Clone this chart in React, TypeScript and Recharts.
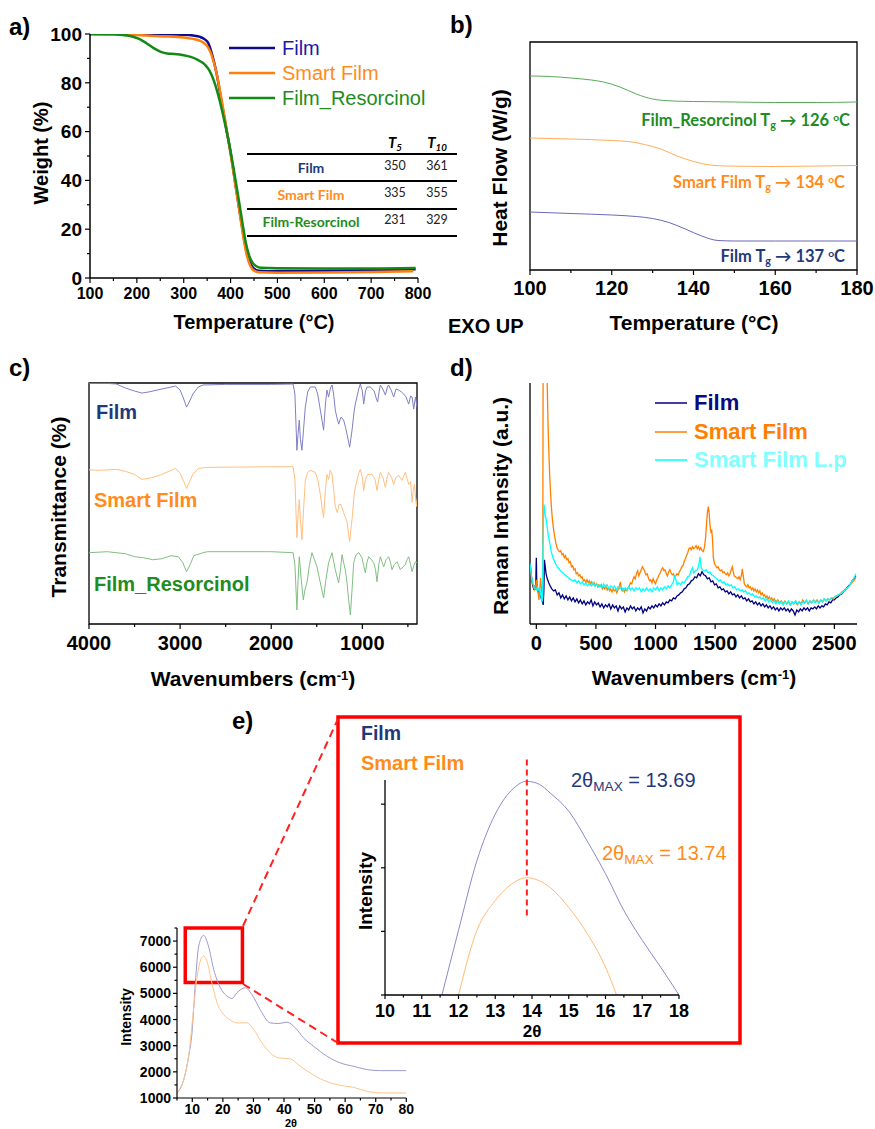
import React from 'react';
import { LineChart, Line, XAxis, YAxis, ReferenceArea, ReferenceLine } from 'recharts';

const AR = '"Liberation Sans", Arial, sans-serif';
const CA = 'Lato, "Open Sans", sans-serif';

const NAVY_T = '#1f3a7a';
const ORANGE_T = '#ff8c1a';
const GREEN_T = '#1e8c1e';

// ---------- a) TGA ----------
const tgaXTicks = [100, 150, 200, 250, 300, 350, 400, 450, 500, 550, 600, 650, 700, 750, 800];
const tgaXMajor = [100, 200, 300, 400, 500, 600, 700, 800];
const tgaYTicks = [0, 10, 20, 30, 40, 50, 60, 70, 80, 90, 100];
const tgaYMajor = [0, 20, 40, 60, 80, 100];
const tgaFilm = [[100, 100], [150, 100], [200, 100], [250, 99.9], [300, 99.7], [320, 99.4], [335, 98.8], [345, 97.8], [352, 96.5], [360, 92], [370, 84], [380, 73], [390, 62], [400, 51.5], [410, 39], [420, 26.5], [428, 17], [435, 10], [442, 6], [450, 3.8], [460, 3], [480, 2.8], [550, 2.9], [650, 3.1], [750, 3.4], [795, 3.6]];
const tgaSmart = [[100, 100], [150, 100], [200, 99.6], [250, 99.1], [300, 98.6], [320, 98], [335, 97.2], [345, 96], [352, 94.5], [360, 91], [370, 84], [380, 74], [390, 63], [400, 51], [410, 38.5], [420, 26], [428, 16], [435, 9], [442, 5], [450, 3], [460, 2.4], [500, 2.2], [600, 2.3], [700, 2.5], [790, 2.8]];
const tgaResorcinol = [[100, 100], [150, 99.9], [170, 99.6], [190, 99], [205, 98], [220, 96.3], [235, 94.3], [250, 92.8], [265, 92], [280, 91.8], [300, 91.3], [315, 90.6], [330, 89.4], [345, 87.5], [355, 85], [365, 80.5], [375, 74], [385, 66], [395, 57], [405, 46.5], [415, 35], [425, 23], [432, 15], [440, 9], [448, 6], [455, 4.8], [465, 4.2], [500, 4], [600, 3.9], [700, 3.9], [795, 4.1]];
const tgaTable = [
  { name: 'Film', t5: 350, t10: 361, color: NAVY_T },
  { name: 'Smart Film', t5: 335, t10: 355, color: ORANGE_T },
  { name: 'Film-Resorcinol', t5: 231, t10: 329, color: GREEN_T },
];

// ---------- b) DSC ----------
const dscXTicks = [100, 110, 120, 130, 140, 150, 160, 170, 180];
const dscXMajor = [100, 120, 140, 160, 180];
const dscResorcinol = [[100, 97], [105, 96.75], [110, 96], [115, 95], [118, 94], [122, 91.5], [126, 88], [130, 85.5], [135, 84.5], [140, 84.25], [150, 84], [160, 83.75], [170, 83.75], [180, 84]];
const dscSmart = [[100, 66], [110, 65.5], [120, 64.75], [125, 64], [128, 62.75], [132, 60.5], [136, 57], [140, 54.25], [144, 52.5], [148, 52], [160, 51.75], [170, 52], [180, 52.25]];
const dscFilm = [[100, 29], [110, 28.25], [120, 27.5], [126, 26.75], [130, 25.75], [134, 23.75], [138, 20.5], [142, 17], [146, 14.75], [150, 14.5], [160, 14.5], [180, 14.5]];

// ---------- c) FTIR ----------
const irXTicks = [4000, 3500, 3000, 2500, 2000, 1500, 1000, 500];
const irXMajor = [4000, 3000, 2000, 1000];
const irFilm = [[4000, 119.8], [3800, 119.8], [3700, 119.5], [3650, 118.5], [3600, 117.5], [3500, 116], [3420, 115], [3350, 115.5], [3200, 117], [3100, 118], [3050, 118.5], [3000, 116.5], [2960, 112], [2930, 108], [2900, 110.5], [2860, 114.5], [2800, 118], [2750, 119], [2500, 119.3], [2000, 119.3], [1760, 119.5], [1740, 114.5], [1718, 86.5], [1705, 95], [1692, 101.5], [1680, 92], [1663, 86.5], [1645, 97], [1626, 108], [1600, 115.5], [1571, 118], [1516, 118], [1490, 114.5], [1461, 106.5], [1425, 96.5], [1405, 109.5], [1388, 116.5], [1370, 113], [1350, 117.5], [1333, 119], [1315, 114.5], [1297, 106.5], [1280, 103], [1260, 99.5], [1234, 103], [1205, 101.5], [1185, 98], [1168, 94.5], [1139, 88], [1113, 96.5], [1090, 106], [1077, 109.5], [1040, 117], [1022, 119.5], [1000, 116], [985, 109.5], [965, 116], [948, 118], [912, 118], [870, 116], [845, 112], [832, 110.5], [815, 116], [802, 119], [775, 117], [747, 114], [725, 118], [711, 119], [680, 116], [656, 113], [630, 117], [601, 116.5], [570, 115.5], [546, 114.5], [520, 113], [491, 109.5], [470, 113.5], [454, 113], [436, 107], [417, 113], [400, 108]];
const irSmart = [[4000, 76.8], [3900, 76.5], [3700, 77], [3600, 76], [3500, 74.5], [3420, 72], [3300, 73], [3200, 74.5], [3100, 76.5], [3050, 77.5], [3000, 75], [2960, 71], [2930, 67.5], [2900, 70.5], [2860, 74.5], [2800, 77.5], [2700, 78], [2000, 78.3], [1760, 78.3], [1740, 72], [1725, 52], [1718, 43], [1705, 54.5], [1692, 62], [1680, 52], [1663, 42], [1645, 57], [1626, 71.5], [1600, 75.5], [1571, 76.5], [1516, 75.5], [1490, 72], [1461, 64.5], [1440, 57], [1425, 53], [1405, 67], [1388, 74.5], [1370, 72], [1352, 76.5], [1333, 74.5], [1315, 67], [1297, 58.5], [1275, 55.5], [1255, 59.5], [1234, 59.5], [1205, 55.5], [1185, 53], [1168, 51], [1150, 44.5], [1139, 41], [1120, 49.5], [1113, 52], [1090, 64.5], [1077, 68], [1040, 75], [1022, 77], [1000, 73], [985, 66.5], [965, 72], [940, 74.5], [894, 74.5], [860, 72], [839, 66.5], [820, 72], [802, 75.5], [775, 73], [747, 68], [725, 73.5], [711, 75.5], [680, 73], [656, 69.5], [630, 73], [601, 74], [565, 71.5], [528, 75.5], [491, 69.5], [470, 71], [454, 60.5], [440, 67], [428, 69.5], [406, 58.5], [400, 62]];
const irResorcinol = [[4000, 35.5], [3800, 36], [3600, 35], [3500, 33.5], [3400, 33], [3300, 32], [3200, 32.5], [3100, 34], [3020, 33.5], [2970, 30.5], [2930, 26], [2890, 29.5], [2850, 34], [2750, 35.5], [2700, 36], [2000, 36], [1760, 35.5], [1740, 29.5], [1718, 7], [1705, 22], [1692, 33.5], [1670, 22], [1648, 12], [1630, 17], [1608, 20.5], [1580, 29.5], [1553, 35.5], [1525, 32], [1498, 28.5], [1461, 20.5], [1425, 13], [1400, 22], [1370, 30.5], [1333, 35.5], [1297, 27], [1260, 20.5], [1240, 27], [1223, 34.5], [1200, 29.5], [1187, 27], [1168, 20.5], [1150, 12], [1131, 4.5], [1113, 17], [1095, 30.5], [1070, 34.5], [1040, 35.5], [1004, 33], [985, 29], [967, 25.5], [948, 31], [930, 33.5], [900, 32], [875, 30.5], [855, 27], [839, 21], [820, 29.5], [802, 33.5], [785, 31], [765, 28.5], [740, 32], [711, 33.5], [690, 30.5], [674, 27], [650, 29.5], [619, 31], [600, 29], [583, 27], [555, 28.5], [528, 29.5], [510, 32], [491, 33.5], [470, 29.5], [454, 26], [436, 29], [417, 31], [400, 30.5]];

// ---------- d) Raman ----------
const ramanXTicks = [0, 250, 500, 750, 1000, 1250, 1500, 1750, 2000, 2250, 2500];
const ramanXMajor = [0, 500, 1000, 1500, 2000, 2500];
const ramanFilm = [[-53, 30.5], [-45, 26], [-38, 22], [-30, 19], [-22, 17.5], [-14, 18.5], [-6, 17], [0, 33], [4, 20], [12, 17], [22, 15], [32, 14.5], [42, 12.5], [52, 11], [58, 9.5], [64, 18], [68, 32], [74, 29], [82, 25], [92, 22.5], [104, 20.5], [116, 19], [130, 17.5], [145, 16.5], [160, 17], [175, 14.5], [190, 15.5], [205, 13], [220, 14.5], [235, 12.5], [250, 14], [265, 12], [280, 13.5], [295, 11.5], [310, 13], [325, 11], [340, 12.5], [355, 10.5], [370, 12], [385, 10], [400, 11.5], [415, 9.5], [430, 11], [445, 10], [460, 12], [475, 9], [490, 11], [505, 9.5], [520, 10.5], [535, 8.5], [550, 10], [565, 8], [580, 9.5], [595, 8.5], [610, 10], [625, 7.5], [640, 9.5], [655, 8], [670, 9], [685, 6.5], [700, 9], [715, 7.5], [730, 8.5], [745, 6], [760, 8], [775, 7], [790, 9], [805, 7.5], [820, 8.5], [835, 6.5], [850, 8], [865, 7], [880, 8.5], [895, 5.5], [910, 7.5], [925, 6.5], [940, 8.5], [955, 7.5], [970, 9], [985, 8], [1000, 9.5], [1015, 8.5], [1030, 10], [1045, 9], [1060, 10.5], [1075, 9.5], [1090, 11], [1105, 10.5], [1120, 12], [1135, 11.5], [1150, 13], [1165, 12.5], [1180, 14], [1195, 14.5], [1210, 15.5], [1225, 16], [1240, 17.5], [1255, 18], [1270, 19.5], [1285, 20], [1300, 21.5], [1315, 22], [1330, 23.5], [1345, 23], [1360, 25], [1375, 24], [1390, 26], [1405, 24.5], [1420, 24], [1435, 22.5], [1450, 23], [1465, 21], [1480, 21.5], [1495, 19.5], [1510, 20], [1525, 18], [1540, 18.5], [1555, 17], [1570, 17.5], [1585, 16], [1600, 16.5], [1615, 15], [1630, 16], [1645, 14.5], [1660, 15], [1675, 13.5], [1690, 14.5], [1705, 13], [1720, 14], [1735, 12.5], [1750, 13], [1765, 11.5], [1780, 12.5], [1795, 11], [1810, 11.5], [1825, 10], [1840, 11], [1855, 9.5], [1870, 10.5], [1885, 9], [1900, 10], [1915, 8.5], [1930, 9.5], [1945, 8], [1960, 9], [1975, 7.5], [1990, 8.5], [2005, 7], [2020, 8], [2035, 6.5], [2050, 8], [2065, 7], [2080, 8], [2095, 6.5], [2110, 7.5], [2125, 6], [2140, 7.5], [2155, 6.5], [2170, 4.5], [2185, 7], [2200, 6], [2215, 7.5], [2230, 6.5], [2245, 8], [2260, 7], [2275, 8], [2290, 6.5], [2305, 8], [2320, 7.5], [2335, 8.5], [2350, 7.5], [2365, 9], [2380, 8], [2395, 9], [2410, 8.5], [2425, 10], [2440, 9.5], [2455, 11], [2470, 10.5], [2485, 12], [2500, 12], [2515, 13], [2530, 13.5], [2545, 14.5], [2560, 15], [2575, 16], [2590, 17], [2605, 18], [2620, 19], [2635, 20], [2650, 21.5], [2665, 22.5], [2680, 24]];
const ramanSmart = [[-53, 30.5], [-45, 26], [-38, 22], [-30, 20], [-22, 18], [-14, 17], [-6, 19], [0, 22], [6, 18], [14, 16], [22, 12], [30, 18], [36, 23], [44, 17], [50, 14.5], [54, 13], [57, 130], [70, 160], [85, 140], [92, 118], [98, 100], [105, 86], [112, 74], [119, 66], [126, 58.5], [135, 52], [145, 47], [154, 43.5], [165, 40], [175, 38], [185, 36.5], [195, 36], [205, 36.5], [215, 34.5], [225, 35], [235, 33], [245, 34], [255, 32], [265, 32.5], [275, 30.5], [285, 31], [295, 28.5], [305, 29], [315, 27], [325, 27.5], [335, 25], [345, 25.5], [355, 24], [365, 24.5], [375, 23], [385, 23.5], [395, 21.5], [405, 22], [415, 20.5], [425, 22], [435, 20.5], [445, 21.5], [455, 20], [465, 21], [475, 19.5], [485, 20.5], [495, 19], [505, 20], [515, 18.5], [525, 19.5], [535, 18.5], [545, 19.5], [555, 17.5], [565, 18.5], [575, 17.5], [585, 19], [595, 17], [605, 18], [615, 16.5], [625, 17.5], [635, 16], [645, 17.5], [655, 16.5], [665, 17], [675, 15.5], [685, 17], [695, 18.5], [705, 21], [712, 18], [720, 16.5], [730, 17.5], [740, 16], [750, 17.5], [760, 16.5], [770, 18], [780, 19], [790, 20.5], [800, 20], [810, 22], [820, 23.5], [830, 22.5], [840, 25], [850, 26.5], [860, 24], [870, 25.5], [880, 27], [890, 28.5], [900, 27.5], [910, 26], [920, 24.5], [930, 25], [940, 23], [950, 21.5], [960, 22], [970, 20.5], [980, 22.5], [990, 21], [1000, 20], [1010, 22], [1020, 23], [1030, 24.5], [1040, 25.5], [1050, 27], [1060, 28], [1070, 26.5], [1080, 27], [1090, 25], [1100, 24], [1110, 26], [1120, 27], [1130, 25.5], [1140, 24.5], [1150, 25], [1160, 23.5], [1170, 24], [1180, 25], [1190, 24.5], [1200, 26], [1210, 27], [1220, 28.5], [1230, 29], [1240, 31], [1250, 32.5], [1260, 34], [1270, 35.5], [1280, 37.5], [1290, 38], [1300, 37], [1310, 38.5], [1320, 37.5], [1330, 38], [1340, 39], [1350, 37.5], [1360, 38.5], [1370, 37], [1380, 38], [1390, 36.5], [1400, 36], [1410, 38], [1420, 43], [1428, 50], [1436, 56], [1443, 58.5], [1450, 55], [1457, 49], [1464, 46], [1471, 47], [1478, 42], [1485, 33], [1495, 30], [1505, 29], [1515, 28], [1525, 28.5], [1535, 27], [1545, 26.5], [1555, 27], [1565, 25.5], [1575, 26], [1585, 25], [1595, 24.5], [1605, 25.5], [1615, 24], [1625, 25], [1635, 27], [1644, 28.5], [1652, 26], [1660, 24], [1670, 23.5], [1680, 23], [1690, 22.5], [1700, 23.5], [1710, 22], [1720, 24], [1728, 27.5], [1736, 24], [1745, 20], [1755, 19], [1765, 18.5], [1775, 19.5], [1785, 18], [1795, 18.5], [1805, 17], [1815, 18], [1825, 16.5], [1835, 17.5], [1845, 16], [1855, 17], [1865, 15.5], [1875, 16.5], [1885, 14.5], [1895, 15.5], [1905, 14], [1915, 14.5], [1925, 13], [1935, 14], [1945, 12.5], [1955, 13.5], [1965, 12], [1975, 13], [1985, 11.5], [1995, 12.5], [2010, 11], [2025, 12], [2040, 10.5], [2055, 11.5], [2070, 10], [2085, 11.5], [2100, 10], [2115, 11], [2130, 9.5], [2145, 11], [2160, 10], [2175, 11.5], [2190, 9.5], [2205, 11], [2220, 10], [2235, 12], [2250, 10.5], [2265, 11.5], [2280, 10], [2295, 11.5], [2310, 10.5], [2325, 12], [2340, 11], [2355, 12], [2370, 10.5], [2385, 12], [2400, 11], [2415, 12.5], [2430, 11.5], [2445, 12.5], [2460, 12], [2475, 13], [2490, 12.5], [2505, 13.5], [2520, 14], [2535, 14.5], [2550, 15], [2565, 16], [2580, 16.5], [2595, 17.5], [2610, 18], [2625, 19], [2640, 20], [2655, 21], [2670, 22], [2680, 23.5]];
const ramanSmartLp = [[-53, 30], [-45, 26], [-38, 22.5], [-30, 21], [-22, 19], [-14, 18], [-6, 17.5], [2, 17], [10, 18.5], [18, 17], [28, 18], [38, 14], [46, 11], [52, 12], [56, 38], [61, 54], [65, 59.5], [70, 57], [76, 53.5], [84, 52], [92, 48], [100, 44], [112, 40.5], [125, 36], [140, 33], [154, 31], [170, 29], [190, 27.5], [210, 26], [230, 25], [250, 24], [270, 23], [290, 22], [310, 21.5], [325, 22], [340, 20.5], [355, 21.5], [370, 20], [385, 21], [400, 19.5], [415, 20.5], [430, 19], [445, 20], [460, 19], [475, 20.5], [490, 19], [505, 20], [520, 18.5], [535, 19.5], [550, 18], [565, 20], [580, 18.5], [595, 19.5], [610, 17.5], [625, 19], [640, 18], [655, 19], [670, 17], [685, 18.5], [700, 17.5], [715, 18.5], [730, 16.5], [745, 18], [760, 17], [775, 18.5], [790, 17], [805, 18], [820, 16.5], [835, 18], [850, 17], [865, 18], [880, 16], [895, 17.5], [910, 16.5], [925, 18], [940, 16.5], [955, 17.5], [970, 16], [985, 18], [1000, 17], [1015, 18.5], [1030, 16.5], [1045, 18], [1060, 17], [1075, 18.5], [1090, 17.5], [1105, 19], [1120, 18], [1135, 19.5], [1150, 21], [1160, 24.5], [1170, 22], [1182, 19.5], [1195, 20.5], [1210, 19.5], [1225, 21], [1240, 20.5], [1255, 22], [1270, 23.5], [1285, 24], [1300, 27], [1310, 28], [1320, 25.5], [1335, 26.5], [1350, 27], [1362, 29], [1373, 33.5], [1383, 28], [1395, 27], [1410, 26.5], [1425, 27], [1440, 25.5], [1455, 26], [1470, 24.5], [1485, 24], [1500, 23], [1515, 22.5], [1530, 21.5], [1545, 22], [1560, 20.5], [1575, 21], [1590, 19.5], [1605, 20], [1620, 19], [1635, 19.5], [1650, 18], [1665, 18.5], [1680, 17], [1695, 17.5], [1710, 16.5], [1725, 17], [1740, 16], [1755, 16.5], [1770, 15], [1785, 15.5], [1800, 14.5], [1815, 15], [1830, 13.5], [1845, 14], [1860, 13], [1875, 13.5], [1890, 12.5], [1905, 13], [1920, 11.5], [1935, 12.5], [1950, 11], [1965, 12], [1980, 10.5], [1995, 11.5], [2010, 10], [2025, 11.5], [2040, 10], [2055, 11], [2070, 9.5], [2085, 11], [2100, 10], [2115, 11.5], [2130, 9.5], [2145, 11], [2160, 10], [2175, 11.5], [2190, 10], [2205, 11], [2220, 9.5], [2235, 11], [2250, 10.5], [2265, 12], [2280, 10], [2295, 11.5], [2310, 10.5], [2325, 12], [2340, 10.5], [2355, 11.5], [2370, 10.5], [2385, 12], [2400, 11], [2415, 12.5], [2430, 11.5], [2445, 12.5], [2460, 12], [2475, 13], [2490, 13], [2505, 13.5], [2520, 14], [2535, 14.5], [2550, 15], [2565, 15.5], [2580, 16.5], [2595, 17], [2610, 18], [2625, 19], [2640, 20.5], [2655, 22], [2670, 23.5], [2680, 25]];

// ---------- e) XRD ----------
const xrdXTicks = [5, 10, 15, 20, 25, 30, 35, 40, 45, 50, 55, 60, 65, 70, 75, 80];
const xrdXMajor = [10, 20, 30, 40, 50, 60, 70, 80];
const xrdYTicks = [1000, 1500, 2000, 2500, 3000, 3500, 4000, 4500, 5000, 5500, 6000, 6500, 7000, 7500];
const xrdYMajor = [1000, 2000, 3000, 4000, 5000, 6000, 7000];
const xrdFilm = [[5.2, 1215], [7.2, 1700], [8.8, 2594], [9.9, 3490], [11, 5406], [12.1, 6808], [13.7, 7218], [15.3, 6808], [17, 5916], [19.2, 5215], [21.4, 4893], [23, 4805], [24.6, 5023], [27.3, 5215], [29.5, 4958], [32.2, 4383], [35.5, 3873], [38.2, 3847], [41, 3897], [43.7, 3682], [46.4, 3299], [49.7, 2977], [54.1, 2594], [58.4, 2341], [62.8, 2211], [67.2, 2084], [71.5, 2046], [80, 2046]];
const xrdSmart = [[5.2, 1215], [7.2, 1700], [8.8, 2594], [10.4, 4383], [11.6, 5659], [12.6, 6233], [13.7, 6425], [14.8, 6233], [16.4, 5406], [18.1, 4640], [20.3, 4192], [22.5, 3973], [24.6, 3873], [27.9, 3873], [30.1, 3617], [32.8, 3107], [35.5, 2724], [38.2, 2533], [42.1, 2494], [45.3, 2211], [48.6, 1958], [53, 1674], [57.3, 1510], [62.8, 1406], [67.2, 1253], [72.6, 1192], [80, 1192]];
const zoomBox = { x1: 7.7, x2: 26.4, y1: 5420, y2: 7500 };
const insetXTicks = [10, 10.5, 11, 11.5, 12, 12.5, 13, 13.5, 14, 14.5, 15, 15.5, 16, 16.5, 17, 17.5, 18];
const insetXMajor = [10, 11, 12, 13, 14, 15, 16, 17, 18];
const insetYTicks = [5500, 6000, 6500, 7000];
const insetFilm = [[11.55, 5500], [12, 6008], [12.5, 6555], [13, 6922], [13.5, 7125], [13.85, 7180], [14.2, 7156], [14.5, 7086], [15, 6945], [15.5, 6711], [16, 6453], [16.5, 6164], [17, 5930], [17.5, 5719], [18, 5500]];
const insetSmart = [[12, 5500], [12.5, 6008], [13, 6242], [13.5, 6383], [13.85, 6422], [14.2, 6398], [14.5, 6344], [15, 6188], [15.5, 5984], [16, 5719], [16.3, 5500]];
const thetaMax = 13.86;
const thetaLine = [7351, 6101];

const pts = (a: number[][]) => a.map(([x, y]) => ({ x, y }));

// ---------- tick renderers ----------
const xTick = (majors: number[], o: { fs: number; gap: number; maj: number; min: number; label?: boolean }) => (p: any) => {
  const v = p.payload.value;
  const m = majors.indexOf(v) >= 0;
  return (
    <g>
      <line x1={p.x} x2={p.x} y1={p.y} y2={p.y + (m ? o.maj : o.min)} stroke="#000" strokeWidth={1.2} />
      {m && o.label !== false && (
        <text x={p.x} y={p.y + o.gap} textAnchor="middle" fontFamily={AR} fontWeight="bold" fontSize={o.fs} fill="#000">{v}</text>
      )}
    </g>
  );
};
const yTick = (majors: number[], o: { fs: number; gap: number; maj: number; min: number; label?: boolean }) => (p: any) => {
  const v = p.payload.value;
  const m = majors.indexOf(v) >= 0;
  return (
    <g>
      <line x1={p.x} x2={p.x - (m ? o.maj : o.min)} y1={p.y} y2={p.y} stroke="#000" strokeWidth={1.2} />
      {m && o.label !== false && (
        <text x={p.x - o.gap} y={p.y} dy="0.36em" textAnchor="end" fontFamily={AR} fontWeight="bold" fontSize={o.fs} fill="#000">{v}</text>
      )}
    </g>
  );
};

const axBase = { type: 'number' as const, allowDataOverflow: true, interval: 0 as const, tickLine: false, tickSize: 0, tickMargin: 0 };

const Txt = ({ x, y, a = 'start', s, w = 'bold', c = '#000', f = AR, it = false, rot = false, children }: any) => {
  const tx = a === 'start' ? '0' : a === 'middle' ? '-50%' : '-100%';
  const style: React.CSSProperties = {
    position: 'absolute', left: x, top: y, fontSize: s, fontWeight: w as any, color: c, fontFamily: f,
    fontStyle: it ? 'italic' : 'normal', whiteSpace: 'nowrap', lineHeight: 1,
    transform: rot ? 'translate(-50%,-50%) rotate(-90deg)' : `translate(${tx},-50%)`,
  };
  return <div style={style}>{children}</div>;
};
const Sub = ({ children, k = 0.65 }: any) => <span style={{ fontSize: `${k}em`, position: 'relative', top: '0.3em' }}>{children}</span>;
const Sup = ({ children }: any) => <span style={{ fontSize: '0.62em', position: 'relative', top: '-0.5em' }}>{children}</span>;

const Box = ({ left, top, children }: any) => <div style={{ position: 'absolute', left, top }}>{children}</div>;

export default function App() {
  return (
    <div style={{ position: 'absolute', left: 0, top: 0, width: 875, height: 1129, background: '#fff', overflow: 'hidden', fontFamily: AR }}>
      {/* a) TGA */}
      <Box left={30} top={20}>
        <LineChart width={413} height={293} margin={{ top: 14, right: 25, bottom: 5, left: 5 }}>
          <XAxis {...axBase} dataKey="x" domain={[100, 800]} ticks={tgaXTicks} height={30}
            tick={xTick(tgaXMajor, { fs: 16, gap: 21, maj: 5, min: 3 })} axisLine={{ stroke: '#000', strokeWidth: 1.5 }} />
          <YAxis {...axBase} dataKey="y" domain={[0, 100]} ticks={tgaYTicks} width={55}
            tick={yTick(tgaYMajor, { fs: 19, gap: 8, maj: 5, min: 3 })} axisLine={{ stroke: '#000', strokeWidth: 1.5 }} />
          <Line data={pts(tgaFilm)} dataKey="y" type="monotone" stroke="#0c0c8a" strokeWidth={2.5} dot={false} activeDot={false} isAnimationActive={false} />
          <Line data={pts(tgaSmart)} dataKey="y" type="monotone" stroke="#ff7f0e" strokeWidth={2.5} dot={false} activeDot={false} isAnimationActive={false} />
          <Line data={pts(tgaResorcinol)} dataKey="y" type="monotone" stroke="#138a13" strokeWidth={2.5} dot={false} activeDot={false} isAnimationActive={false} />
        </LineChart>
      </Box>

      {/* b) DSC */}
      <Box left={505} top={32}>
        <LineChart width={377} height={273} margin={{ top: 10, right: 25, bottom: 5, left: 25 }}>
          <XAxis {...axBase} dataKey="x" domain={[100, 180]} ticks={dscXTicks} height={30} axisLine={false}
            tick={xTick(dscXMajor, { fs: 20, gap: 25, maj: 5, min: 3 })} />
          <YAxis type="number" domain={[0, 114]} hide />
          <ReferenceArea x1={100} x2={180} y1={0} y2={114} fill="none" stroke="#000" strokeWidth={1.3} fillOpacity={0} />
          <Line data={pts(dscResorcinol)} dataKey="y" type="monotone" stroke="#5aaa5a" strokeWidth={1} dot={false} activeDot={false} isAnimationActive={false} />
          <Line data={pts(dscSmart)} dataKey="y" type="monotone" stroke="#ffad5c" strokeWidth={1} dot={false} activeDot={false} isAnimationActive={false} />
          <Line data={pts(dscFilm)} dataKey="y" type="monotone" stroke="#6a6ab8" strokeWidth={1} dot={false} activeDot={false} isAnimationActive={false} />
        </LineChart>
      </Box>

      {/* c) FTIR */}
      <Box left={64} top={373}>
        <LineChart width={363} height={286} margin={{ top: 10, right: 10, bottom: 5, left: 25 }}>
          <XAxis {...axBase} dataKey="x" domain={[400, 4000]} reversed ticks={irXTicks} height={30} axisLine={false}
            tick={xTick(irXMajor, { fs: 20, gap: 26, maj: 5, min: 3 })} />
          <YAxis type="number" domain={[0, 120]} hide allowDataOverflow />
          <ReferenceArea x1={400} x2={4000} y1={0} y2={120} fill="none" stroke="#000" strokeWidth={1.3} fillOpacity={0} />
          <Line data={pts(irFilm)} dataKey="y" type="linear" stroke="#7f7fc4" strokeWidth={1} dot={false} activeDot={false} isAnimationActive={false} />
          <Line data={pts(irSmart)} dataKey="y" type="linear" stroke="#ffbf80" strokeWidth={1} dot={false} activeDot={false} isAnimationActive={false} />
          <Line data={pts(irResorcinol)} dataKey="y" type="linear" stroke="#80c080" strokeWidth={1} dot={false} activeDot={false} isAnimationActive={false} />
        </LineChart>
      </Box>

      {/* d) Raman */}
      <Box left={520} top={373}>
        <LineChart width={347} height={286} margin={{ top: 10, right: 10, bottom: 5, left: 10 }}>
          <XAxis {...axBase} dataKey="x" domain={[-53, 2690]} ticks={ramanXTicks} height={30}
            axisLine={{ stroke: '#000', strokeWidth: 1.3 }}
            tick={xTick(ramanXMajor, { fs: 20, gap: 26, maj: 5, min: 3 })} />
          <YAxis type="number" domain={[0, 120]} hide allowDataOverflow />
          <ReferenceLine x={-53} stroke="#000" strokeWidth={1.3} />
          <Line data={pts(ramanFilm)} dataKey="y" type="linear" stroke="#000080" strokeWidth={1.3} dot={false} activeDot={false} isAnimationActive={false} />
          <Line data={pts(ramanSmart)} dataKey="y" type="linear" stroke="#ff8000" strokeWidth={1.3} dot={false} activeDot={false} isAnimationActive={false} />
          <Line data={pts(ramanSmartLp)} dataKey="y" type="linear" stroke="#00ffff" strokeWidth={1.3} dot={false} activeDot={false} isAnimationActive={false} />
        </LineChart>
      </Box>

      {/* e) XRD full */}
      <Box left={126.7} top={918.3}>
        <LineChart width={289.3} height={210} margin={{ top: 10, right: 10, bottom: 5, left: 5 }}>
          <XAxis {...axBase} dataKey="x" domain={[5, 80]} ticks={xrdXTicks} height={25}
            axisLine={{ stroke: '#000', strokeWidth: 1.2 }}
            tick={xTick(xrdXMajor, { fs: 14, gap: 16, maj: 4, min: 2.5 })} />
          <YAxis {...axBase} dataKey="y" domain={[1000, 7500]} ticks={xrdYTicks} width={45}
            axisLine={{ stroke: '#000', strokeWidth: 1.2 }}
            tick={yTick(xrdYMajor, { fs: 14, gap: 6, maj: 4, min: 2.5 })} />
          <Line data={pts(xrdFilm)} dataKey="y" type="monotone" stroke="#9a9ad2" strokeWidth={1} dot={false} activeDot={false} isAnimationActive={false} />
          <Line data={pts(xrdSmart)} dataKey="y" type="monotone" stroke="#ffc48c" strokeWidth={1} dot={false} activeDot={false} isAnimationActive={false} />
          <ReferenceArea x1={zoomBox.x1} x2={zoomBox.x2} y1={zoomBox.y1} y2={zoomBox.y2} fill="none" fillOpacity={0} stroke="#ff0000" strokeWidth={3.5} ifOverflow="visible" />
        </LineChart>
      </Box>

      {/* e) XRD inset */}
      <Box left={375} top={750}>
        <LineChart width={314} height={280} margin={{ top: 30, right: 10, bottom: 5, left: 0 }}>
          <XAxis {...axBase} dataKey="x" domain={[10, 18]} ticks={insetXTicks} height={30}
            axisLine={{ stroke: '#000', strokeWidth: 1.3 }}
            tick={xTick(insetXMajor, { fs: 18, gap: 22, maj: 4, min: 2.5 })} />
          <YAxis {...axBase} dataKey="y" domain={[5500, 7190]} ticks={insetYTicks} width={10}
            axisLine={{ stroke: '#000', strokeWidth: 1.3 }}
            tick={yTick(insetYTicks, { fs: 12, gap: 6, maj: 4, min: 4, label: false })} />
          <Line data={pts(insetFilm)} dataKey="y" type="monotone" stroke="#8a8acc" strokeWidth={1} dot={false} activeDot={false} isAnimationActive={false} />
          <Line data={pts(insetSmart)} dataKey="y" type="monotone" stroke="#ffbb77" strokeWidth={1} dot={false} activeDot={false} isAnimationActive={false} />
          <ReferenceLine segment={[{ x: thetaMax, y: thetaLine[0] }, { x: thetaMax, y: thetaLine[1] }]} stroke="#ff2020" strokeWidth={2} strokeDasharray="6 4" ifOverflow="visible" />
        </LineChart>
      </Box>

      {/* decorations: legends, table rules, zoom frame */}
      <svg width={875} height={1129} style={{ position: 'absolute', left: 0, top: 0, pointerEvents: 'none' }}>
        <line x1={229} x2={275} y1={48} y2={48} stroke="#0c0c8a" strokeWidth={2.5} />
        <line x1={229} x2={275} y1={73} y2={73} stroke="#ff7f0e" strokeWidth={2.5} />
        <line x1={229} x2={275} y1={98} y2={98} stroke="#138a13" strokeWidth={2.5} />
        {[154, 181, 209, 236].map((y) => <line key={y} x1={247} x2={457} y1={y} y2={y} stroke="#000" strokeWidth={2} />)}
        <line x1={655} x2={687} y1={403} y2={403} stroke="#000080" strokeWidth={1.5} />
        <line x1={655} x2={687} y1={432} y2={432} stroke="#ff8000" strokeWidth={1.5} />
        <line x1={655} x2={687} y1={460} y2={460} stroke="#00ffff" strokeWidth={1.5} />
        <rect x={338} y={717} width={402} height={326} fill="none" stroke="#ff0000" strokeWidth={3.5} />
        <line x1={243} y1={926} x2={338} y2={719} stroke="#ff2020" strokeWidth={2} strokeDasharray="8 5" />
        <line x1={243} y1={984} x2={338} y2={1043} stroke="#ff2020" strokeWidth={2} strokeDasharray="8 5" />
      </svg>

      {/* a) texts */}
      <Txt x={9} y={27} s={24}>a)</Txt>
      <Txt x={41} y={153} s={20} rot>Weight (%)</Txt>
      <Txt x={254} y={322} s={20} a="middle">Temperature (°C)</Txt>
      <Txt x={282} y={48} s={20} w="normal" c="#1a1aa6">Film</Txt>
      <Txt x={282} y={73} s={20} w="normal" c={ORANGE_T}>Smart Film</Txt>
      <Txt x={282} y={98} s={20} w="normal" c={GREEN_T}>Film_Resorcinol</Txt>
      <Txt x={395} y={142} s={15} f={CA} it a="middle">T<Sub>5</Sub></Txt>
      <Txt x={437} y={142} s={15} f={CA} it a="middle">T<Sub>10</Sub></Txt>
      {tgaTable.map((r, i) => (
        <React.Fragment key={r.name}>
          <Txt x={311} y={168 + i * 27} s={14} f={CA} c={r.color} a="middle">{r.name}</Txt>
          <Txt x={395} y={166 + i * 27} s={12.5} f={CA} w="normal" c="#222" a="middle">{r.t5}</Txt>
          <Txt x={437} y={166 + i * 27} s={12.5} f={CA} w="normal" c="#222" a="middle">{r.t10}</Txt>
        </React.Fragment>
      ))}

      {/* b) texts */}
      <Txt x={450} y={25} s={24}>b)</Txt>
      <Txt x={499} y={168} s={21} rot>Heat Flow (W/g)</Txt>
      <Txt x={694} y={322} s={21} a="middle">Temperature (°C)</Txt>
      <Txt x={448} y={326} s={20}>EXO UP</Txt>
      <Txt x={850} y={120} s={16.5} f={CA} c={GREEN_T} a="end">Film_Resorcinol T<Sub>g</Sub> → 126 <Sup>o</Sup>C</Txt>
      <Txt x={845} y={182} s={16.5} f={CA} c={ORANGE_T} a="end">Smart Film T<Sub>g</Sub> → 134 <Sup>o</Sup>C</Txt>
      <Txt x={845} y={256} s={16.5} f={CA} c={NAVY_T} a="end">Film T<Sub>g</Sub> → 137 <Sup>o</Sup>C</Txt>

      {/* c) texts */}
      <Txt x={9} y={368} s={24}>c)</Txt>
      <Txt x={58} y={507} s={21} rot>Transmittance (%)</Txt>
      <Txt x={253} y={678} s={21} a="middle">Wavenumbers (cm<Sup>-1</Sup>)</Txt>
      <Txt x={96} y={412} s={20} c={NAVY_T}>Film</Txt>
      <Txt x={94} y={500} s={20} c={ORANGE_T}>Smart Film</Txt>
      <Txt x={94} y={584} s={20} c={GREEN_T}>Film_Resorcinol</Txt>

      {/* d) texts */}
      <Txt x={450} y={368} s={24}>d)</Txt>
      <Txt x={500} y={506} s={21} rot>Raman Intensity (a.u.)</Txt>
      <Txt x={694} y={677} s={21} a="middle">Wavenumbers (cm<Sup>-1</Sup>)</Txt>
      <Txt x={694} y={403} s={22} c="#0a0a80">Film</Txt>
      <Txt x={694} y={432} s={22} c="#ff8000">Smart Film</Txt>
      <Txt x={694} y={460} s={22} c="#80ffff">Smart Film L.p</Txt>

      {/* e) texts */}
      <Txt x={232} y={721} s={24}>e)</Txt>
      <Txt x={126} y={1017} s={14} rot>Intensity</Txt>
      <Txt x={291} y={1123} s={11} a="middle">2θ</Txt>
      <Txt x={361} y={734} s={19.5} c={NAVY_T}>Film</Txt>
      <Txt x={361} y={763} s={20} c={ORANGE_T}>Smart Film</Txt>
      <Txt x={365} y={891} s={19} rot>Intensity</Txt>
      <Txt x={532} y={1031} s={17} a="middle">2θ</Txt>
      <Txt x={571} y={780} s={20} w="normal" c={NAVY_T}>2θ<Sub k={0.68}>MAX</Sub> = 13.69</Txt>
      <Txt x={602} y={853} s={20} w="normal" c={ORANGE_T}>2θ<Sub k={0.68}>MAX</Sub> = 13.74</Txt>
    </div>
  );
}
